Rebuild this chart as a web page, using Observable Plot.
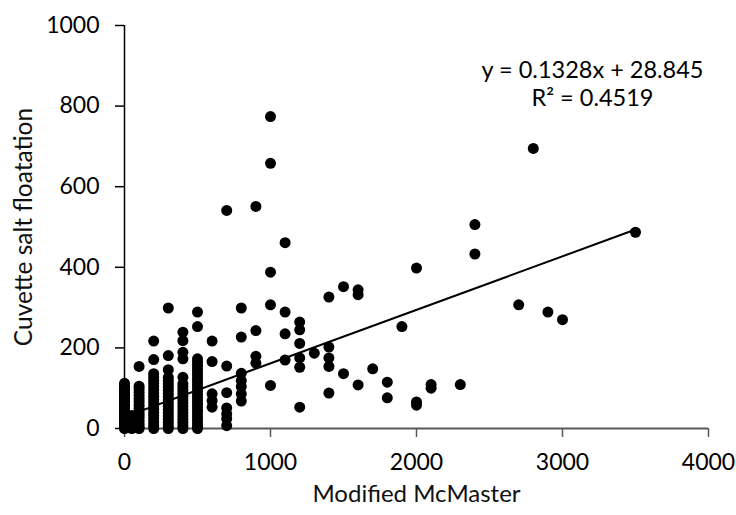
<!DOCTYPE html>
<html>
<head>
<meta charset="utf-8">
<script src="https://cdn.jsdelivr.net/npm/d3@7"></script>
<script src="https://cdn.jsdelivr.net/npm/@observablehq/plot@0.6"></script>
<style>
  html, body { margin: 0; padding: 0; background: #fff; }
  #chart svg { display: block; }
</style>
</head>
<body>
<div id="chart"></div>
<script>
// Modified McMaster counts (x) and the Cuvette salt floatation counts read at each level (y)
const mcmasterLevels = [0, 50, 100, 200, 300, 400, 500, 600, 700, 800, 900, 1000, 1100, 1200, 1300, 1400, 1500, 1600, 1700, 1800, 1900, 2000, 2100, 2300, 2400, 2700, 2800, 2900, 3000, 3500];
const cuvetteByLevel = [
  [0, 3, 6, 10, 14, 18, 22, 26, 30, 35, 40, 45, 50, 55, 60, 65, 70, 75, 80, 85, 90, 95, 100, 105, 112],
  [0, 8, 16, 24, 32],
  [154, 105, 98, 90, 82, 74, 66, 58, 50, 42, 35, 28, 20, 12, 5, 0],
  [217, 171, 136, 128, 120, 112, 104, 96, 88, 80, 72, 64, 56, 48, 40, 32, 24, 16, 8, 0],
  [299, 181, 146, 127, 119, 111, 103, 95, 87, 79, 71, 63, 55, 47, 39, 31, 23, 15, 7, 0],
  [239, 218, 189, 173, 127, 111, 103, 95, 87, 79, 71, 63, 55, 47, 39, 31, 23, 15, 7, 0],
  [289, 253, 173, 165, 157, 149, 141, 133, 125, 117, 109, 101, 93, 85, 77, 69, 61, 53, 45, 37, 29, 21, 13, 5, 0],
  [217, 166, 86, 69, 53],
  [541, 155, 89, 51, 36, 24, 7],
  [299, 227, 137, 119, 104, 86, 68],
  [551, 243, 179, 162],
  [774, 658, 388, 307, 107],
  [461, 289, 235, 170],
  [264, 245, 211, 175, 152, 53],
  [187],
  [326, 202, 175, 154, 88],
  [352, 136],
  [344, 332, 108],
  [148],
  [115, 76],
  [253],
  [398, 66, 58],
  [109, 100],
  [109],
  [506, 433],
  [307],
  [695],
  [289],
  [270],
  [487]
];

// Trend line as printed on the chart
const trendSlope = 0.1328;
const trendIntercept = 28.845;
const trendExtent = [0, 3500];
const equationLines = ["y = 0.1328x + 28.845", "R\u00b2 = 0.4519"];

// Axes
const xTicks = [0, 1000, 2000, 3000, 4000];
const yTicks = [0, 200, 400, 600, 800, 1000];
const xTitle = "Modified McMaster";
const yTitle = "Cuvette salt floatation";

const points = mcmasterLevels.flatMap((m, i) => cuvetteByLevel[i].map(c => ({mcmaster: m, cuvette: c})));
const trend = trendExtent.map(x => ({x, y: trendIntercept + trendSlope * x}));
const plain = d => String(d);

const chart = Plot.plot({
  width: 736,
  height: 515,
  marginLeft: 124,
  marginRight: 28,
  marginTop: 25,
  marginBottom: 87,
  style: {fontFamily: "Lato, sans-serif", background: "#fff", color: "#000", overflow: "visible"},
  x: {domain: [0, 4000]},
  y: {domain: [0, 1000]},
  marks: [
    Plot.ruleX([0], {stroke: "#000", strokeWidth: 1.5}),
    Plot.axisY(yTicks, {tickSize: 9, tickPadding: 16, fontSize: 23, tickFormat: plain, label: null, stroke: "#000", strokeWidth: 1.5, fill: "#000"}),
    Plot.axisX(xTicks, {tickSize: 9, tickPadding: 16, fontSize: 23, tickFormat: plain, label: null, stroke: "#595959", strokeWidth: 1.5, fill: "#000"}),
    Plot.ruleY([0], {stroke: "#595959", strokeWidth: 2}),
    Plot.dot(points, {x: "mcmaster", y: "cuvette", r: 5.5, fill: "#000", stroke: "none"}),
    Plot.line(trend, {x: "x", y: "y", stroke: "#000", strokeWidth: 2}),
    Plot.text([equationLines[0]], {frameAnchor: "top-right", dx: -116, dy: 36, textAnchor: "middle", fontSize: 23.5, fill: "#000"}),
    Plot.text([equationLines[1]], {frameAnchor: "top-right", dx: -116, dy: 64, textAnchor: "middle", fontSize: 23.5, fill: "#000"}),
    Plot.text([xTitle], {frameAnchor: "bottom", dy: 73, textAnchor: "middle", fontSize: 24, fill: "#111"}),
    Plot.text([yTitle], {frameAnchor: "left", dx: -100, rotate: -90, textAnchor: "middle", fontSize: 24.5, fill: "#111"})
  ]
});

document.getElementById("chart").appendChild(chart);
</script>
</body>
</html>
